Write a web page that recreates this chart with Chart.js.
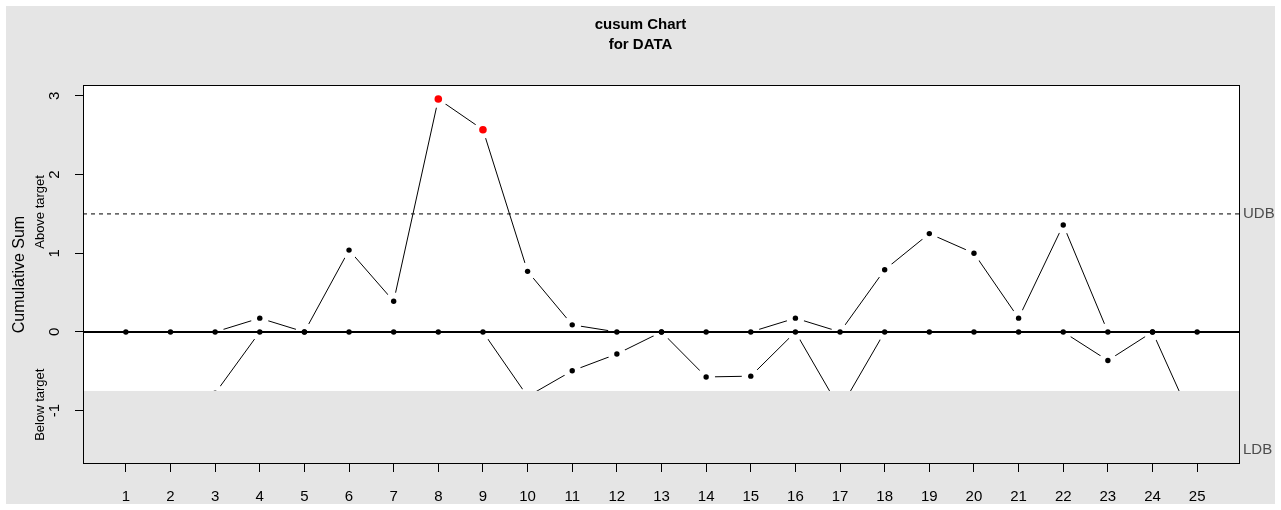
<!DOCTYPE html>
<html>
<head>
<meta charset="utf-8">
<title>cusum Chart for DATA</title>
<script src="https://cdn.jsdelivr.net/npm/chart.js@4.4.1/dist/chart.umd.min.js"></script>
<style>
  html, body { margin: 0; padding: 0; background: #ffffff; }
  #wrap { position: relative; width: 1281px; height: 510px; }
</style>
</head>
<body>
<div id="wrap"><canvas id="cusum" width="1281" height="510"></canvas></div>
<script>
// Sample numbers (x axis)
const samples = [1, 2, 3, 4, 5, 6, 7, 8, 9, 10, 11, 12, 13, 14, 15, 16, 17, 18, 19, 20, 21, 22, 23, 24, 25];
// Upper cumulative sum (above target)
const aboveTarget = [0, 0, 0, 0.175, 0, 1.04, 0.39, 2.96, 2.57, 0.77, 0.09, 0, 0, 0, 0, 0.175, 0, 0.79, 1.25, 1.0, 0.175, 1.36, 0, 0, 0];
// Lower cumulative sum (below target)
const belowTarget = [-0.95, -1.1, -0.78, 0, 0, 0, 0, 0, 0, -0.82, -0.494, -0.28, 0, -0.572, -0.562, 0, -0.98, 0, 0, 0, 0, 0, -0.363, 0, -1.26];
// Decision boundaries
const UDB = 1.5;
const LDB = -1.5;
// Top of the shaded lower panel
const lowerPanelTop = -0.75;
// Y axis tick values
const yTicks = [-1, 0, 1, 2, 3];

const FONT = '"Liberation Sans", Arial, Helvetica, sans-serif';
const GRAY = '#e5e5e5';

// R-style axis limits: data range extended by 4% on each side
const xMin = 1 - 0.04 * 24, xMax = 25 + 0.04 * 24;
const yLo = LDB, yHi = Math.max(UDB, ...aboveTarget);
const ySpan = yHi - yLo;
const yMin = yLo - 0.04 * ySpan, yMax = yHi + 0.04 * ySpan;

const pts = arr => samples.map((x, i) => ({ x, y: arr[i] }));
const hline = v => [{ x: xMin, y: v }, { x: xMax, y: v }];

const pointColors = aboveTarget.map(v => (v > UDB ? '#ff0000' : '#000000'));
const pointSizes = aboveTarget.map(v => (v > UDB ? 3.8 : 2.7));

// Background, plot panel, shaded lower panel, frame and annotations
const decor = {
  id: 'decor',
  beforeDraw(chart) {
    const { ctx, chartArea: a } = chart;
    ctx.save();
    ctx.fillStyle = '#ffffff';
    ctx.fillRect(0, 0, chart.width, chart.height);
    ctx.fillStyle = GRAY;
    ctx.fillRect(6, 6, chart.width - 12, chart.height - 12);
    ctx.fillStyle = '#ffffff';
    ctx.fillRect(a.left, a.top, a.right - a.left, a.bottom - a.top);
    ctx.restore();
  },
  afterDatasetsDraw(chart) {
    const { ctx, chartArea: a, scales: { y } } = chart;
    const top = y.getPixelForValue(lowerPanelTop);
    ctx.save();
    ctx.fillStyle = GRAY;
    ctx.fillRect(a.left, top, a.right - a.left, a.bottom - top);
    ctx.restore();
  },
  afterDraw(chart) {
    const { ctx, chartArea: a, scales: { y } } = chart;
    ctx.save();
    // frame
    ctx.strokeStyle = '#000000';
    ctx.lineWidth = 1;
    ctx.strokeRect(Math.round(a.left) + 0.5, Math.round(a.top) + 0.5,
                   Math.round(a.right - a.left) - 1, Math.round(a.bottom - a.top) - 1);
    // title
    ctx.fillStyle = '#000000';
    ctx.textAlign = 'center';
    ctx.textBaseline = 'middle';
    ctx.font = 'bold 15px ' + FONT;
    ctx.fillText('cusum Chart', chart.width / 2, 25);
    ctx.fillText('for DATA', chart.width / 2, 45);
    // side labels
    ctx.font = '13px ' + FONT;
    [['Above target', y.getPixelForValue(UDB) - 2], ['Below target', y.getPixelForValue(-0.925)]].forEach(([t, py]) => {
      ctx.save();
      ctx.translate(40, py);
      ctx.rotate(-Math.PI / 2);
      ctx.fillText(t, 0, 0);
      ctx.restore();
    });
    // boundary labels
    ctx.fillStyle = '#4d4d4d';
    ctx.textAlign = 'left';
    ctx.font = '15px ' + FONT;
    ctx.fillText('UDB', a.right + 3, y.getPixelForValue(UDB));
    ctx.fillText('LDB', a.right + 3, y.getPixelForValue(LDB));
    ctx.restore();
  }
};

new Chart(document.getElementById('cusum'), {
  type: 'line',
  data: {
    datasets: [
      // connecting segments; white discs open a gap around each point
      { data: pts(aboveTarget), borderColor: '#000', borderWidth: 1, pointRadius: 9,
        pointBackgroundColor: '#fff', pointBorderWidth: 0, order: 6 },
      { data: pts(belowTarget), borderColor: '#000', borderWidth: 1, pointRadius: 9,
        pointBackgroundColor: '#fff', pointBorderWidth: 0, order: 5 },
      // decision boundaries
      { data: hline(UDB), borderColor: '#000', borderWidth: 1, borderDash: [4, 4], pointRadius: 0, order: 4 },
      { data: hline(LDB), borderColor: '#000', borderWidth: 1, borderDash: [4, 4], pointRadius: 0, order: 4 },
      // target line
      { data: hline(0), borderColor: '#000', borderWidth: 2, pointRadius: 0, order: 3 },
      // markers
      { data: pts(aboveTarget), showLine: false, pointRadius: pointSizes, pointBackgroundColor: pointColors,
        pointBorderWidth: 0, order: 2 },
      { data: pts(belowTarget), showLine: false, pointRadius: 2.7, pointBackgroundColor: '#000',
        pointBorderWidth: 0, order: 1 }
    ]
  },
  options: {
    responsive: false,
    animation: false,
    events: [],
    layout: { padding: { left: 0, top: 85, right: 41, bottom: 0 } },
    plugins: { legend: { display: false }, tooltip: { enabled: false }, title: { display: false } },
    scales: {
      x: {
        type: 'linear', min: xMin, max: xMax,
        afterBuildTicks(s) { s.ticks = samples.map(v => ({ value: v })); },
        afterFit(s) { s.height = 46; },
        grid: { display: true, drawOnChartArea: false, drawTicks: true, tickLength: 8, color: '#000', tickColor: '#000' },
        border: { display: false },
        ticks: { autoSkip: false, maxRotation: 0, padding: 16, color: '#000', font: { family: FONT, size: 15 } }
      },
      y: {
        type: 'linear', min: yMin, max: yMax,
        afterBuildTicks(s) { s.ticks = yTicks.map(v => ({ value: v })); },
        afterFit(s) { s.width = 83; },
        grid: { display: true, drawOnChartArea: false, drawTicks: true, tickLength: 8, color: '#000', tickColor: '#000' },
        border: { display: false },
        ticks: { minRotation: 90, maxRotation: 90, crossAlign: 'center', padding: 13, color: '#000',
                 font: { family: FONT, size: 15 } },
        title: { display: true, text: 'Cumulative Sum', color: '#000', font: { family: FONT, size: 16 },
                 padding: { top: 10, bottom: 0 } }
      }
    }
  },
  plugins: [decor]
});
</script>
</body>
</html>
